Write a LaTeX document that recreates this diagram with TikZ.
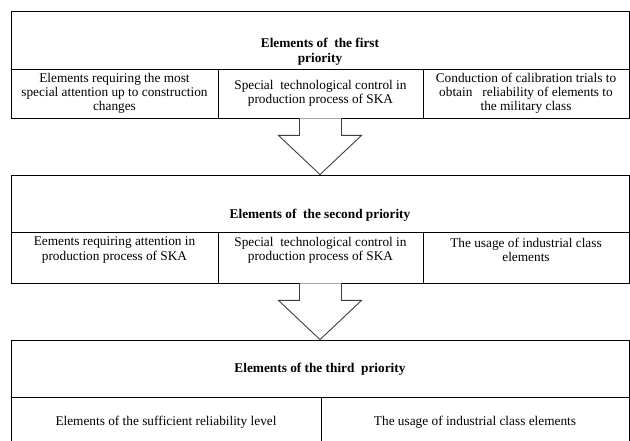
\documentclass[tikz,border=0pt]{standalone}
\usepackage{fontspec}
\setmainfont{Liberation Serif}
\usetikzlibrary{calc}
\begin{document}
\begin{tikzpicture}[x=1pt,y=-1pt,
  cell/.style={draw=black,line width=0.8pt,inner sep=0pt,minimum height=#1},
  txt/.style={font=\fontsize{13.3}{14.2}\selectfont,align=center,inner sep=0pt},
  ttl/.style={font=\fontsize{13.3}{14.6}\selectfont\bfseries,align=center,inner sep=0pt},
  barrow/.style={draw=black!75,line width=0.9pt,fill=white,line join=miter}]
\useasboundingbox (0,0) rectangle (630,441);
\clip (0,0) rectangle (630,441);
% box 1
\node[cell=58pt,minimum width=618pt] (t1) at (320,40) {};
\node[cell=49pt,minimum width=207pt] (r1a) at (114.5,93.5) {};
\node[cell=49pt,minimum width=205pt] (r1b) at (320.5,93.5) {};
\node[cell=49pt,minimum width=206pt] (r1c) at (526,93.5) {};
\node[ttl] (t1x) at (320,51.5) {Elements of\ \ the first\\priority};
\node[txt] (r1ax) at (r1a.center) {Elements requiring the most\\special attention up to construction\\changes};
\node[txt] (r1bx) at (r1b.center) {Special\ \ technological control in\\production process of SKA};
\node[txt] (r1cx) at (r1c.center) {Conduction of calibration trials to\\obtain\ \ \ reliability of elements to\\the military class};
% box 2
\node[cell=57pt,minimum width=618pt] (t2) at (320,203.5) {};
\node[cell=51pt,minimum width=207pt] (r2a) at (114.5,257.5) {};
\node[cell=51pt,minimum width=205pt] (r2b) at (320.5,257.5) {};
\node[cell=51pt,minimum width=206pt] (r2c) at (526,257.5) {};
\node[ttl] (t2x) at (320,215.5) {Elements of\ \ the second priority};
\node[txt] (r2ax) at (114.5,250) {Eements requiring attention in\\production process of SKA};
\node[txt] (r2bx) at (320.5,250) {Special\ \ technological control in\\production process of SKA};
\node[txt] (r2cx) at (526,250) {The usage of industrial class\\elements};
% box 3
\node[cell=57pt,minimum width=618pt] (t3) at (320,368.5) {};
\node[cell=52pt,minimum width=310pt] (r3a) at (166,423) {};
\node[cell=52pt,minimum width=308pt] (r3b) at (475,423) {};
\node[ttl] (t3x) at (320,369.5) {Elements of the third\ \ priority};
\node[txt] (r3ax) at (166,422) {Elements of the sufficient reliability level};
\node[txt] (r3bx) at (475,422) {The usage of industrial class elements};
% arrows
\draw[barrow] ($(r1b.south)+(-21,0)$) -- ($(r1b.south)+(-21,17)$) -- ($(r1b.south)+(-42,17)$)
  -- (t2.north) -- ($(r1b.south)+(41,17)$) -- ($(r1b.south)+(21,17)$) -- ($(r1b.south)+(21,0)$);
\draw[barrow] ($(r2b.south)+(-21,0)$) -- ($(r2b.south)+(-21,17)$) -- ($(r2b.south)+(-42,17)$)
  -- (t3.north) -- ($(r2b.south)+(41,17)$) -- ($(r2b.south)+(21,17)$) -- ($(r2b.south)+(21,0)$);
\end{tikzpicture}
\end{document}
